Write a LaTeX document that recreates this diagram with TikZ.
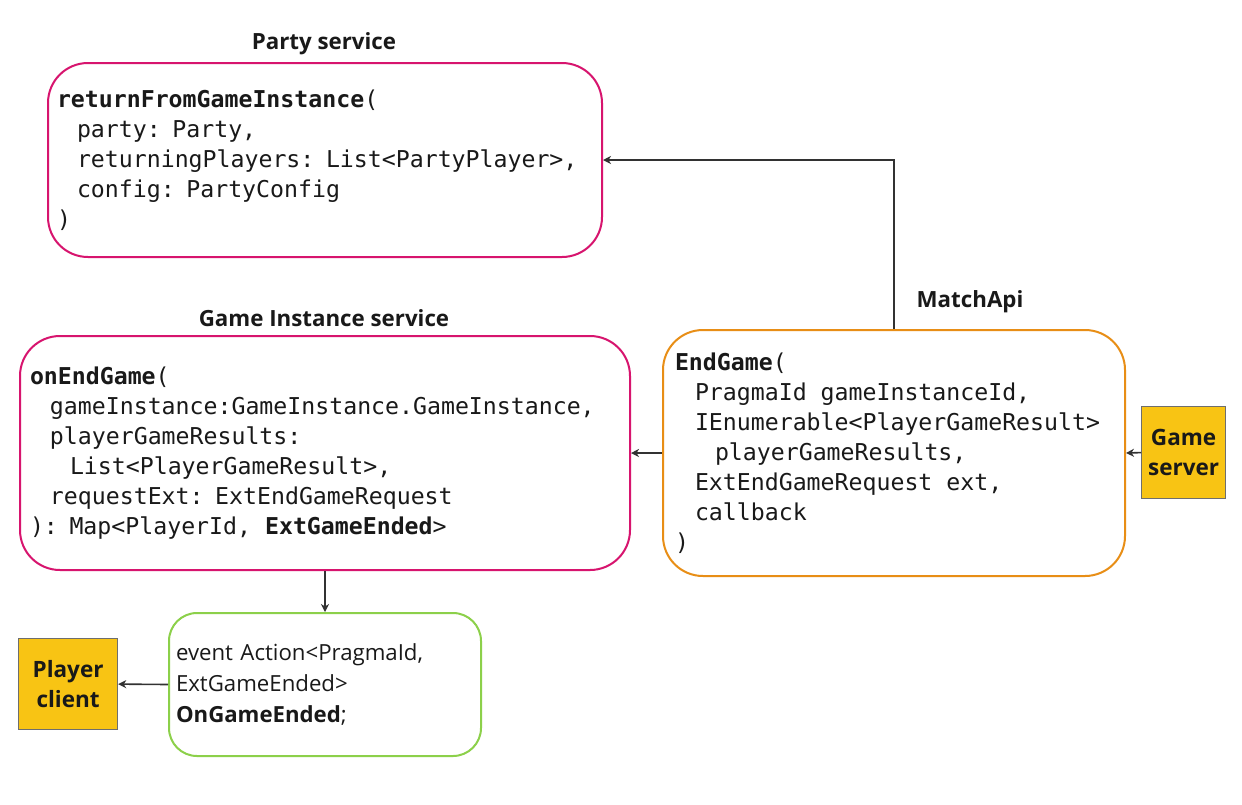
\documentclass[tikz,border=0pt]{standalone}
\usepackage{fontspec}
\setmainfont{Open Sans}
\setmonofont{DejaVu Sans Mono}
\usetikzlibrary{arrows.meta}
\definecolor{pinkc}{RGB}{215,20,110}
\definecolor{orangec}{RGB}{232,142,22}
\definecolor{greenc}{RGB}{140,208,74}
\definecolor{yellowc}{RGB}{248,196,20}
\definecolor{greyc}{RGB}{110,110,110}
\definecolor{txt}{RGB}{25,25,25}
\definecolor{arrc}{RGB}{50,50,50}
\newcommand{\ind}{\hspace*{20pt}}
\newcommand{\monospacing}{\spaceskip=13.97pt\relax}
\tikzset{
  codebox/.style={draw, line width=2pt, rounded corners=40pt, fill=white, anchor=north west, align=left, text=txt,
    font=\ttfamily\fontsize{23.2}{30}\selectfont, execute at begin node=\monospacing},
  plainbox/.style={draw=greenc, line width=2pt, rounded corners=28pt, fill=white, anchor=north west, align=left, text=txt,
    font=\fontsize{22.2}{31}\selectfont},
  actor/.style={draw=greyc, line width=1.2pt, fill=yellowc, anchor=north west, align=center, text=txt,
    font=\bfseries\fontsize{22.5}{30}\selectfont, inner sep=0pt},
  title/.style={text=txt, font=\bfseries\fontsize{22.3}{24}\selectfont, inner sep=0pt},
  arr/.style={draw=arrc, line width=1.6pt, -{Stealth[length=8pt,width=8pt,inset=2.5pt]}},
}
\begin{document}
\begin{tikzpicture}[x=1pt,y=-1pt]
\useasboundingbox (0,0) rectangle (1242,804);
\fill[white] (0,0) rectangle (1242,804);

\node[title] (ptitle) at (324,44) {Party service};
\node[codebox, draw=pinkc, minimum width=554pt, minimum height=194pt, text width=536pt, inner xsep=9pt, inner ysep=0pt] (party) at (47,62)
{\textbf{returnFromGameInstance}(\\
\ind party: Party,\\
\ind returningPlayers: List<PartyPlayer>,\\
\ind config: PartyConfig\\
)};

\node[title] (gtitle) at (324,318) {Game Instance service};
\node[codebox, draw=pinkc, minimum width=610pt, minimum height=234pt, text width=590pt, inner xsep=10pt, inner ysep=0pt] (gi) at (19,335)
{\textbf{onEndGame}(\\
\ind gameInstance:GameInstance.GameInstance,\\
\ind playerGameResults:\\
\ind\ind List<PlayerGameResult>,\\
\ind requestExt: ExtEndGameRequest\\
): Map<PlayerId, \textbf{ExtGameEnded}>};

\node[title] (mtitle) at (970,302) {MatchApi};
\node[codebox, draw=orangec, minimum width=462pt, minimum height=246pt, text width=438pt, inner xsep=12pt, inner ysep=0pt] (match) at (662,329)
{\textbf{EndGame}(\\
\ind PragmaId gameInstanceId,\\
\ind IEnumerable<PlayerGameResult>\\
\ind\ind playerGameResults,\\
\ind ExtEndGameRequest ext,\\
\ind callback\\
)};

\node[actor, minimum width=84pt, minimum height=92pt] (gs) at (1141,406) {Game\\server};
\node[actor, minimum width=99pt, minimum height=91pt] (pc) at (18,638) {Player\\client};

\node[plainbox, minimum width=312pt, minimum height=143pt, text width=298pt, inner xsep=7pt, inner ysep=0pt] (ev) at (168,612)
{event Action<PragmaId,\\
ExtGameEnded>\\
\textbf{OnGameEnded};};

\draw[arr] (match.north) |- (party.east);
\draw[arr] (match.west) -- (gi.east);
\draw[arr] (gs.west) -- (match.east);
\draw[arr] (gi.south) -- (ev.north);
\draw[arr] (ev.west) -- (pc.east);
\end{tikzpicture}
\end{document}
